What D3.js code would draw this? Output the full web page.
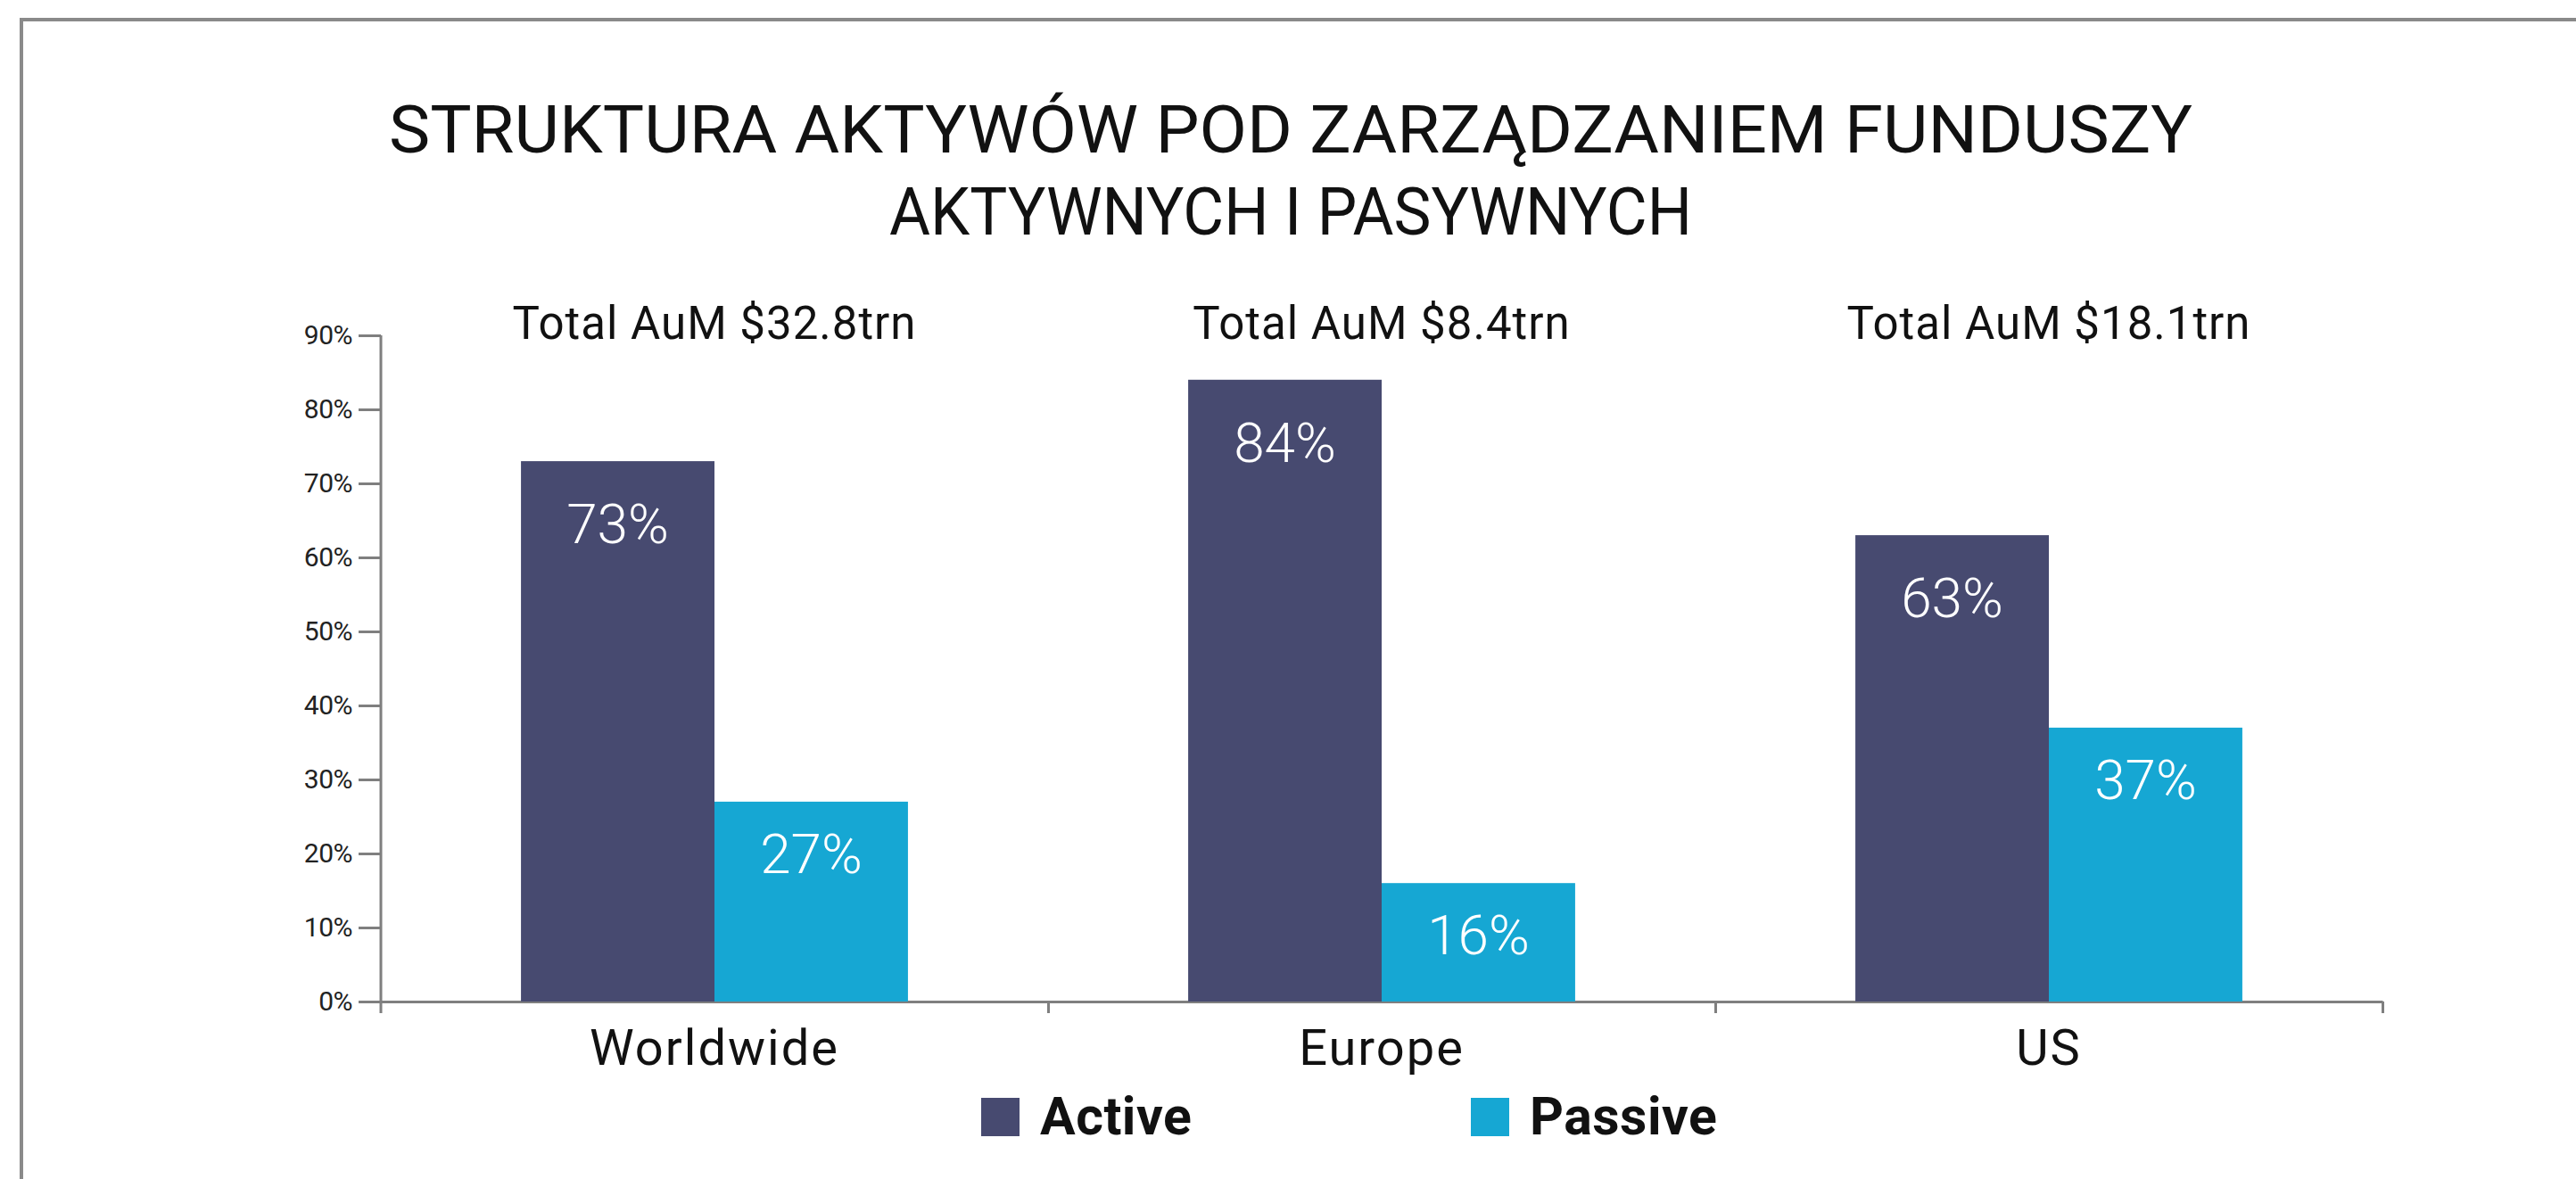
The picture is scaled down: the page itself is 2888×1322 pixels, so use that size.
<!DOCTYPE html>
<html>
<head>
<meta charset="utf-8">
<script src="https://cdn.jsdelivr.net/npm/d3@7"></script>
<style>
  body { margin: 0; background: #fff; }
  svg { display: block; font-family: Roboto, "Open Sans", sans-serif; }
  .axis path, .axis line { stroke: #7f7f7f; stroke-width: 3; }
  .axis text { fill: #222; }
</style>
</head>
<body>
<svg width="2888" height="1322"></svg>
<script>
  const titleLines = ['STRUKTURA AKTYWÓW POD ZARZĄDZANIEM FUNDUSZY', 'AKTYWNYCH I PASYWNYCH'];
  const regions = ['Worldwide', 'Europe', 'US'];
  const totals = ['Total AuM $32.8trn', 'Total AuM $8.4trn', 'Total AuM $18.1trn'];
  const seriesNames = ['Active', 'Passive'];
  const activeValues = [73, 84, 63];
  const passiveValues = [27, 16, 37];
  const yTicks = [0, 10, 20, 30, 40, 50, 60, 70, 80, 90];
  const colors = ['#474a70', '#16a7d3'];

  const svg = d3.select('svg');
  const width = +svg.attr('width');
  const height = +svg.attr('height');

  const margin = { top: 376, right: 217, bottom: 199, left: 427 };
  const innerWidth = width - margin.left - margin.right;
  const innerHeight = height - margin.top - margin.bottom;

  // frame (top and left edges only)
  svg.append('path')
    .attr('d', `M24,${height} V22 H${width}`)
    .attr('fill', 'none')
    .attr('stroke', '#8a8a8a')
    .attr('stroke-width', 4);

  svg.selectAll('.title').data(titleLines)
    .enter().append('text')
      .attr('class', 'title')
      .attr('x', 1447)
      .attr('y', (d, i) => 171 + i * 92)
      .attr('text-anchor', 'middle')
      .attr('font-size', 74)
      .attr('fill', '#111')
      .attr('textLength', (d, i) => i === 0 ? 2022 : 900)
      .attr('lengthAdjust', 'spacingAndGlyphs')
      .text(d => d);

  const g = svg.append('g')
    .attr('transform', `translate(${margin.left},${margin.top})`);

  const data = regions.map((r, i) => ({
    region: r,
    total: totals[i],
    values: [activeValues[i], passiveValues[i]]
  }));

  const x0 = d3.scaleBand()
    .domain(regions)
    .range([0, innerWidth])
    .paddingInner(0.42)
    .paddingOuter(0.21);

  const x1 = d3.scaleBand()
    .domain(seriesNames)
    .range([0, x0.bandwidth()]);

  const yScale = d3.scaleLinear()
    .domain([0, 90])
    .range([innerHeight, 0]);

  const color = d3.scaleOrdinal().domain(seriesNames).range(colors);

  // y axis
  const yAxisG = g.append('g')
    .attr('class', 'axis')
    .call(d3.axisLeft(yScale)
      .tickValues(yTicks)
      .tickFormat(d => d + '%')
      .tickSize(25)
      .tickSizeOuter(0)
      .tickPadding(7))
    .attr('font-family', null)
    .attr('font-size', 30);
  yAxisG.selectAll('text').attr('letter-spacing', -0.5);
  yAxisG.select('.domain').attr('d', `M0,0V${innerHeight + 13}`);

  // x axis: boundary ticks
  const xEdge = d3.scaleLinear().domain([0, regions.length]).range([0, innerWidth]);
  g.append('g')
    .attr('class', 'axis')
    .attr('transform', `translate(0,${innerHeight})`)
    .call(d3.axisBottom(xEdge)
      .tickValues(d3.range(1, regions.length + 1))
      .tickFormat('')
      .tickSize(13)
      .tickSizeOuter(0));

  // category labels
  const xLabels = g.append('g')
    .attr('transform', `translate(0,${innerHeight})`)
    .call(d3.axisBottom(x0).tickSize(0).tickPadding(0))
    .attr('font-family', null)
    .attr('font-size', 56);
  xLabels.select('.domain').remove();
  xLabels.selectAll('text')
    .attr('dy', 0)
    .attr('y', 71)
    .attr('letter-spacing', 2)
    .attr('fill', '#111');

  // bars
  const groups = g.selectAll('.group').data(data)
    .enter().append('g')
      .attr('class', 'group')
      .attr('transform', d => `translate(${x0(d.region)},0)`);

  const cells = groups.selectAll('.cell')
    .data(d => d.values.map((v, i) => ({ key: seriesNames[i], value: v })))
    .enter();

  cells.append('rect')
    .attr('x', d => x1(d.key))
    .attr('y', d => yScale(d.value))
    .attr('width', x1.bandwidth())
    .attr('height', d => innerHeight - yScale(d.value))
    .attr('fill', d => color(d.key));

  cells.append('text')
    .attr('x', d => x1(d.key) + x1.bandwidth() / 2)
    .attr('y', d => yScale(d.value) + (d.key === 'Active' ? 92 : 80))
    .attr('text-anchor', 'middle')
    .attr('font-size', 62)
    .attr('font-weight', 300)
    .attr('fill', '#fff')
    .text(d => d.value + '%');

  // totals above groups
  groups.append('text')
    .attr('x', x0.bandwidth() / 2)
    .attr('y', 4)
    .attr('text-anchor', 'middle')
    .attr('font-size', 51)
    .attr('letter-spacing', 1)
    .attr('fill', '#111')
    .text(d => d.total);

  // legend
  const legend = svg.append('g')
    .attr('transform', 'translate(1100,1231)');
  const legendItems = legend.selectAll('.item').data(seriesNames)
    .enter().append('g')
      .attr('transform', (d, i) => `translate(${i * 549},0)`);
  legendItems.append('rect')
    .attr('width', 43)
    .attr('height', 43)
    .attr('fill', d => color(d));
  legendItems.append('text')
    .attr('x', 66)
    .attr('y', 41)
    .attr('font-size', 59)
    .attr('font-weight', 700)
    .attr('letter-spacing', 0.5)
    .attr('fill', '#111')
    .text(d => d);
</script>
</body>
</html>
